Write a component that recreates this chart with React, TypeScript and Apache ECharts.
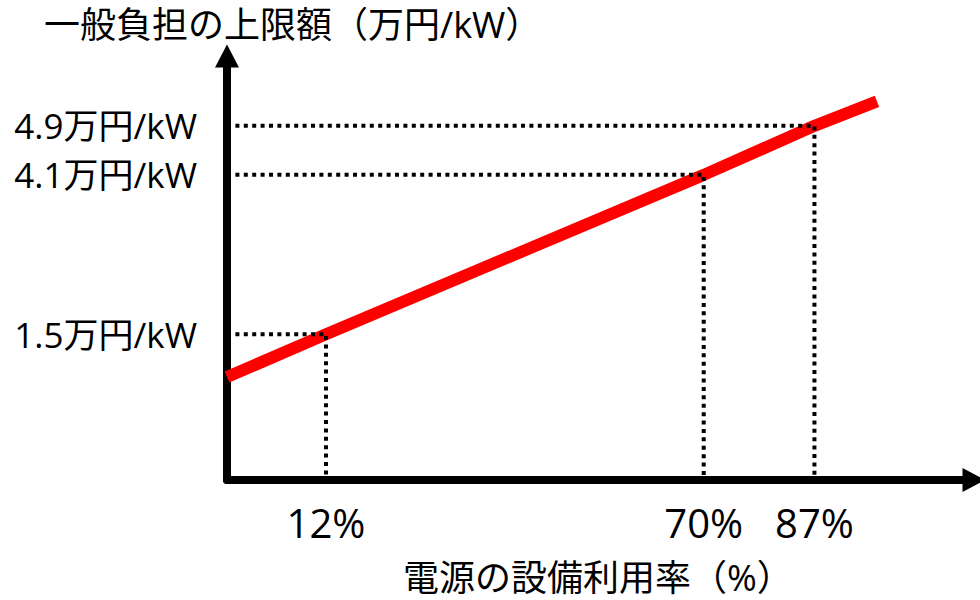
import React, { useEffect, useRef } from 'react';
import * as echarts from 'echarts';

// axis ranges (value space)
const X_MIN = -3.2;
const X_MAX = 111.5;
const Y_MIN = -0.88;
const Y_MAX = 6.04;

// key points
const utilization = [12, 70, 87]; // 電源の設備利用率 (%)
const limitPerKW = [1.5, 4.1, 4.9]; // 一般負担の上限額 (万円/kW)

// ends of the red line
const lineStart = [X_MIN, 0.8];
const lineEnd = [96.6, 5.3];

// tick labels
const xTickLabels = ['12%', '70%', '87%'];
const yTickLabels = ['1.5万円/kW', '4.1万円/kW', '4.9万円/kW'];

const yTitle = '一般負担の上限額（万円/kW）';
const xTitle = '電源の設備利用率（%）';

const FONT = "'Open Sans', 'Noto Sans CJK JP', sans-serif";

export default function App() {
  const ref = useRef<HTMLDivElement>(null);

  useEffect(() => {
    if (!ref.current) return;
    const chart = echarts.init(ref.current, undefined, { renderer: 'svg' });

    const redData = [lineStart, ...utilization.map((x, i) => [x, limitPerKW[i]]), lineEnd];

    const guides = utilization.map((x, i) => ({
      type: 'line',
      data: [
        [X_MIN, limitPerKW[i]],
        [x, limitPerKW[i]],
        [x, Y_MIN],
      ],
      symbol: 'none',
      silent: true,
      z: 5,
      lineStyle: { color: '#000', width: 4, type: [4, 4.4], cap: 'butt' },
    }));

    chart.setOption({
      animation: false,
      backgroundColor: '#fff',
      title: [
        {
          text: yTitle,
          left: 44,
          top: 6,
          padding: 0,
          textStyle: { fontFamily: FONT, fontSize: 36, fontWeight: 'normal', color: '#000' },
        },
        {
          text: xTitle,
          left: 403,
          top: 557,
          padding: 0,
          textStyle: { fontFamily: FONT, fontSize: 36, lineHeight: 40, fontWeight: 'normal', color: '#000' },
        },
      ],
      grid: { left: 227, right: 6, top: 56, bottom: 120, containLabel: false },
      xAxis: {
        type: 'value',
        min: X_MIN,
        max: X_MAX,
        splitLine: { show: false },
        axisTick: { show: false },
        axisLine: {
          show: true,
          onZero: false,
          symbol: ['none', 'triangle'],
          symbolSize: [24, 23],
          lineStyle: { color: '#000', width: 8 },
        },
        axisLabel: {
          customValues: utilization,
          formatter: (v: number) => {
            const i = utilization.indexOf(v);
            return i >= 0 ? xTickLabels[i] : '';
          },
          margin: 22,
          fontFamily: FONT,
          fontSize: 40,
          color: '#000',
        },
      },
      yAxis: {
        type: 'value',
        min: Y_MIN,
        max: Y_MAX,
        splitLine: { show: false },
        axisTick: { show: false },
        axisLine: {
          show: true,
          onZero: false,
          symbol: ['none', 'triangle'],
          symbolSize: [24, 23],
          lineStyle: { color: '#000', width: 8 },
        },
        axisLabel: {
          customValues: limitPerKW,
          formatter: (v: number) => {
            const i = limitPerKW.indexOf(v);
            return i >= 0 ? yTickLabels[i] : '';
          },
          margin: 30,
          fontFamily: FONT,
          fontSize: 35,
          color: '#000',
        },
      },
      series: [
        {
          type: 'line',
          data: redData,
          symbol: 'none',
          silent: true,
          z: 3,
          lineStyle: { color: '#ff0000', width: 12, cap: 'butt' },
        },
        ...guides,
      ],
    });

    return () => chart.dispose();
  }, []);

  return (
    <div
      ref={ref}
      style={{ position: 'fixed', left: 0, top: 0, width: 980, height: 600, background: '#fff' }}
    />
  );
}
